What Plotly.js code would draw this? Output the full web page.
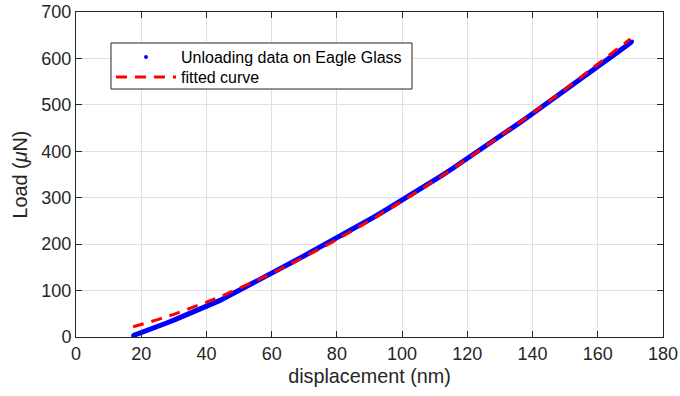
<!DOCTYPE html>
<html>
<head>
<meta charset="utf-8">
<script src="https://cdn.plot.ly/plotly-3.0.1.min.js"></script>
<style>html,body{margin:0;padding:0;background:#fff;}#chart{width:680px;height:396px;}</style>
</head>
<body>
<div id="chart"></div>
<script>
// Unloading data (displacement nm, load uN)
const dataX = [17.5,18,19,20,22,24,26,28,30,32,34,36,38,40,42,44,46,48,50,52,55,58,61,64,67,70,73,76,79,82,85,88,91,94,97,100,103,106,109,112,115,118,121,124,127,130,133,136,139,142,145,148,151,154,157,160,163,166,169,170.5];
const dataY = [3,4.2,6.8,9.3,14.5,19.8,25.2,30.7,36.3,41.9,47.5,53.1,59.1,65.1,71.7,78.3,85.5,92.7,100.2,107.7,118.9,130.1,141.3,152.5,163.7,175,186.3,197.7,209.2,220.8,232.7,244.7,256.9,269.2,281.7,294.3,307.1,320.1,333.4,346.9,360.7,374.6,388.7,403,417.4,431.9,446.5,461.2,476,490.9,505.9,521.2,536.5,551.8,567.1,582.4,597.6,613,628.6,636.5];
// Fitted curve
const fitX = [17.5,20,25,30,35,40,45,50,55,60,70,80,90,100,110,120,130,140,150,160,170];
const fitY = [22,26.8,37.3,48.9,61.5,75,89.3,104.5,120.3,136.9,172.2,209.9,250,292.4,336.9,383.4,431.7,481.9,533.9,587.7,642];
const xTicks = [0,20,40,60,80,100,120,140,160,180];
const yTicks = [0,100,200,300,400,500,600,700];

const axisColor = '#262626';
const gridColor = '#e0e0e0';
const fontFam = '"Liberation Sans", Arial, sans-serif';

const traces = [
  {x: dataX, y: dataY, mode: 'lines', line: {color: '#0000ff', width: 5}, showlegend: false, hoverinfo: 'skip'},
  {x: dataX, y: dataY, mode: 'markers', marker: {color: '#0000ff', size: 4}, name: 'Unloading data on Eagle Glass', legend: 'legend'},
  {x: fitX, y: fitY, mode: 'lines', line: {color: '#ff0000', width: 3, dash: '11px,8px'}, name: 'fitted curve', legend: 'legend2'}
];

const legendCommon = {
  xanchor: 'left', yanchor: 'middle',
  bgcolor: 'rgba(0,0,0,0)', borderwidth: 0,
  font: {family: fontFam, size: 16, color: '#000000'},
  itemwidth: 60
};

const layout = {
  width: 680, height: 396,
  margin: {l: 76, r: 17, t: 12, b: 59},
  paper_bgcolor: '#ffffff', plot_bgcolor: '#ffffff',
  font: {family: fontFam, color: axisColor, size: 18},
  showlegend: true,
  legend: Object.assign({x: 0.0596, y: 0.861}, legendCommon),
  legend2: Object.assign({x: 0.0596, y: 0.8}, legendCommon),
  shapes: [{
    type: 'rect', xref: 'paper', yref: 'paper',
    x0: 0.0596, x1: 0.5724, y0: 0.763, y1: 0.9046,
    fillcolor: '#ffffff', line: {color: axisColor, width: 1}, layer: 'above'
  }],
  xaxis: {
    range: [0, 180], tickvals: xTicks, ticktext: xTicks.map(String),
    ticks: 'inside', ticklen: 6, tickcolor: axisColor, tickwidth: 1,
    showline: true, linecolor: axisColor, linewidth: 1, mirror: 'ticks',
    showgrid: true, gridcolor: gridColor, gridwidth: 1, zeroline: false,
    tickfont: {size: 18, color: axisColor},
    title: {text: 'displacement (nm)', font: {size: 19.8, color: axisColor}, standoff: 6}
  },
  yaxis: {
    range: [0, 700], tickvals: yTicks, ticktext: yTicks.map(String),
    ticks: 'inside', ticklen: 6, tickcolor: axisColor, tickwidth: 1,
    showline: true, linecolor: axisColor, linewidth: 1, mirror: 'ticks',
    showgrid: true, gridcolor: gridColor, gridwidth: 1, zeroline: false,
    tickfont: {size: 18, color: axisColor},
    title: {text: 'Load (<i>μ</i>N)', font: {size: 19.8, color: axisColor}, standoff: 8}
  }
};

Plotly.newPlot('chart', traces, layout, {staticPlot: true, displayModeBar: false});
</script>
</body>
</html>
